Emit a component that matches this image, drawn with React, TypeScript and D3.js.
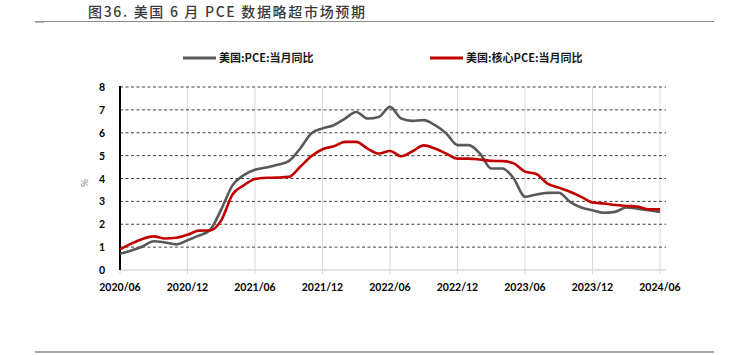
import React from "react";
import * as d3 from "d3";

const months: string[] = (() => {
  const out: string[] = [];
  for (let y = 2020; y <= 2024; y++) {
    for (let m = 1; m <= 12; m++) {
      if ((y === 2020 && m < 6) || (y === 2024 && m > 6)) continue;
      out.push(`${y}/${String(m).padStart(2, "0")}`);
    }
  }
  return out;
})();

const pceYoY: number[] = [
  0.71, 0.85, 1.03, 1.26, 1.2, 1.12, 1.3, 1.5, 1.75, 2.65, 3.7, 4.15, 4.38,
  4.48, 4.6, 4.76, 5.3, 5.97, 6.19, 6.33, 6.62, 6.91, 6.62, 6.69, 7.13,
  6.62, 6.52, 6.55, 6.33, 5.97, 5.46, 5.46, 5.09, 4.44, 4.44, 4.0, 3.2,
  3.3, 3.37, 3.38, 2.98, 2.73, 2.61, 2.5, 2.54, 2.73, 2.68, 2.61, 2.54,
];

const corePceYoY: number[] = [
  0.9, 1.15, 1.36, 1.47, 1.38, 1.41, 1.54, 1.72, 1.73, 2.17, 3.3, 3.7, 3.98,
  4.03, 4.04, 4.07, 4.5, 4.97, 5.28, 5.41, 5.6, 5.6, 5.31, 5.09, 5.2,
  4.97, 5.19, 5.45, 5.31, 5.09, 4.87, 4.87, 4.83, 4.77, 4.76, 4.66, 4.3,
  4.2, 3.78, 3.6, 3.42, 3.2, 2.95, 2.91, 2.84, 2.8, 2.77, 2.65, 2.65,
];

const xTickLabels: string[] = [
  "2020/06", "2020/12", "2021/06", "2021/12", "2022/06",
  "2022/12", "2023/06", "2023/12", "2024/06",
];

const yTicks: number[] = [0, 1, 2, 3, 4, 5, 6, 7, 8];

const seriesNames: string[] = ["美国:PCE:当月同比", "美国:核心PCE:当月同比"];
const seriesColors: string[] = ["#595959", "#c00000"];

export default function App() {
  const W = 732;
  const H = 355;
  const left = 120;
  const right = 660;
  const axisEnd = 666;
  const top = 87;
  const bottom = 270;

  const x = d3.scaleLinear().domain([0, months.length - 1]).range([left, right]);
  const y = d3.scaleLinear().domain([0, 8]).range([bottom, top]);

  const line = d3
    .line<number>()
    .x((_, i) => x(i))
    .y((d) => y(d))
    .curve(d3.curveMonotoneX);

  const tickFont = "Lato, 'Liberation Sans', sans-serif";
  const cjk = "'Noto Sans CJK SC', sans-serif";

  return (
    <svg
      width={W}
      height={H}
      viewBox={`0 0 ${W} ${H}`}
      style={{ position: "absolute", left: 0, top: 0, background: "#fff" }}
    >
      {/* title */}
      <text
        x={88}
        y={17}
        fontFamily={cjk}
        fontSize={14}
        fontWeight={500}
        fill="#3a3a3a"
        textLength={277}
        lengthAdjust="spacing"
      >
        图36. 美国 6 月 PCE 数据略超市场预期
      </text>
      <line x1={35} x2={714} y1={21.5} y2={21.5} stroke="#8c8c8c" strokeWidth={1} />
      <line x1={35} x2={44} y1={22.5} y2={22.5} stroke="#bfbfbf" strokeWidth={1} />

      {/* legend */}
      <line x1={183} x2={216} y1={58} y2={58} stroke={seriesColors[0]} strokeWidth={3} />
      <text x={219} y={62} fontFamily={cjk} fontSize={11} fontWeight="bold" fill="#1a1a1a">
        {seriesNames[0]}
      </text>
      <line x1={430} x2={463} y1={58} y2={58} stroke={seriesColors[1]} strokeWidth={3} />
      <text x={466} y={62} fontFamily={cjk} fontSize={11} fontWeight="bold" fill="#1a1a1a">
        {seriesNames[1]}
      </text>

      {/* vertical gridlines */}
      {xTickLabels.map((lab, k) => (
        <line
          key={"vg" + lab}
          x1={x(k * 6)}
          x2={x(k * 6)}
          y1={top}
          y2={bottom + 4}
          stroke="#d9d9d9"
          strokeWidth={1}
        />
      ))}

      {/* horizontal dashed gridlines */}
      {yTicks
        .filter((t) => t > 0)
        .map((t) => (
          <line
            key={"hg" + t}
            x1={left}
            x2={axisEnd}
            y1={y(t)}
            y2={y(t)}
            stroke="#404040"
            strokeWidth={1}
            strokeDasharray="3,2.5"
          />
        ))}

      {/* x axis */}
      <line x1={left} x2={axisEnd} y1={bottom} y2={bottom} stroke="#d9d9d9" strokeWidth={1.5} />
      {xTickLabels.map((lab, k) => (
        <text
          key={"xl" + lab}
          x={x(k * 6)}
          y={291}
          textAnchor="middle"
          fontFamily={tickFont}
          fontSize={10.5}
          fontWeight="bold"
          fill="#000"
        >
          {lab}
        </text>
      ))}

      {/* y axis */}
      <line x1={left} x2={left} y1={top - 1} y2={bottom} stroke="#000" strokeWidth={2} />
      {yTicks.map((t) => (
        <text
          key={"yl" + t}
          x={105}
          y={y(t) + 4}
          textAnchor="end"
          fontFamily={tickFont}
          fontSize={10.5}
          fontWeight="bold"
          fill="#000"
        >
          {t}
        </text>
      ))}
      <text
        x={0}
        y={0}
        transform={`translate(88,183) rotate(-90)`}
        textAnchor="middle"
        fontFamily={tickFont}
        fontSize={10}
        fill="#7f7f7f"
      >
        %
      </text>

      {/* series */}
      <path d={line(pceYoY) || ""} fill="none" stroke={seriesColors[0]} strokeWidth={2.6} />
      <path d={line(corePceYoY) || ""} fill="none" stroke={seriesColors[1]} strokeWidth={2.6} />

      {/* bottom rule */}
      <line x1={35} x2={714} y1={352} y2={352} stroke="#a6a6a6" strokeWidth={2} />
    </svg>
  );
}
